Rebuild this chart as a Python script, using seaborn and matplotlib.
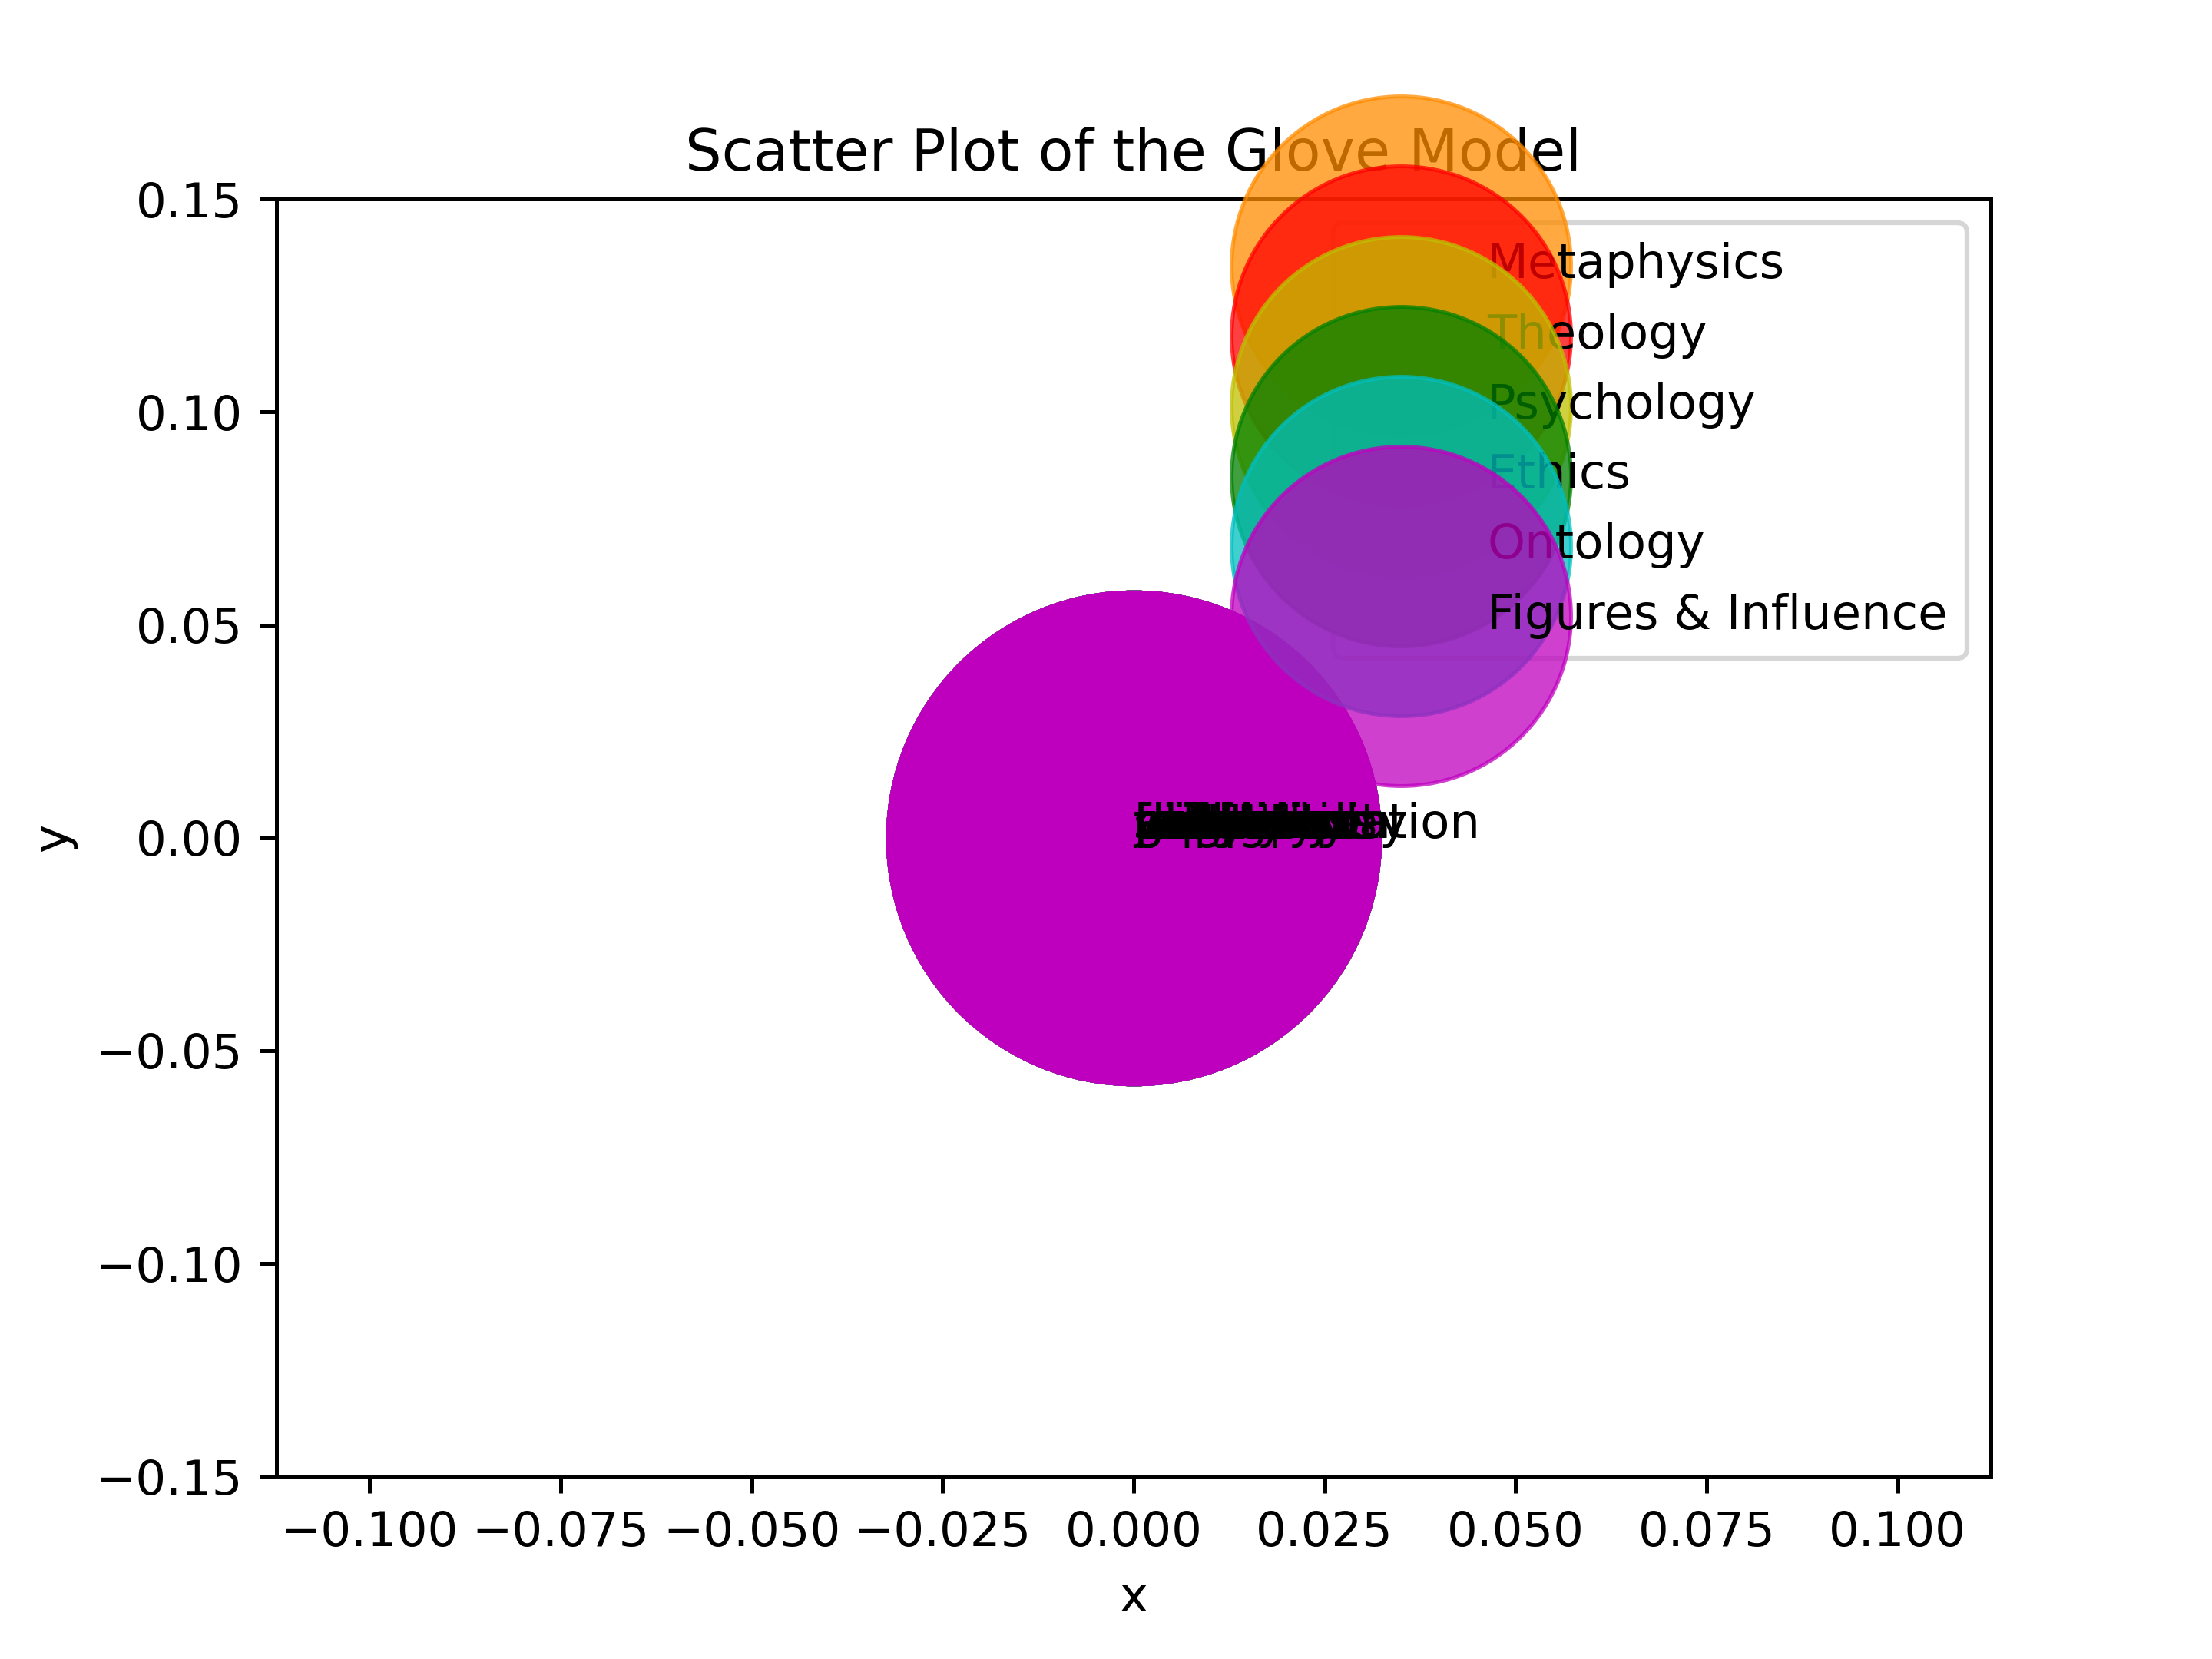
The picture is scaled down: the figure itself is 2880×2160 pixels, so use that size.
import matplotlib
matplotlib.use("Agg")
import matplotlib.pyplot as plt
import seaborn as sns
import pandas as pd

categories = ["Metaphysics", "Theology", "Psychology", "Ethics", "Ontology", "Figures & Influence"]
colors = ["darkorange", "red", "y", "g", "c", "m"]
words = {
    "Metaphysics": ["being", "substance", "causality", "essence", "potentiality"],
    "Theology": ["god", "faith", "soul", "religion", "salvation"],
    "Psychology": ["mind", "will", "desire", "memory", "perception"],
    "Ethics": ["virtue", "good", "justice", "duty", "happiness"],
    "Ontology": ["existence", "reality", "nature", "form", "identity"],
    "Figures & Influence": ["aristotle", "plato", "aquinas", "augustine", "contemplation"],
}
xs = {c: [0.0] * len(words[c]) for c in categories}
ys = {c: [0.0] * len(words[c]) for c in categories}

rows = []
for c in categories:
    for w, x, y in zip(words[c], xs[c], ys[c]):
        rows.append({"cat": c, "word": w, "x": x, "y": y})
df = pd.DataFrame(rows)

fig, ax = plt.subplots(figsize=(6.4, 4.8), dpi=450)
for c, col in zip(categories, colors):
    sub = df[df.cat == c]
    sns.scatterplot(data=sub, x="x", y="y", color=col, s=10500, alpha=0.75,
                    label=c, ax=ax, edgecolor=col, linewidth=0.8)
for _, r in df.iterrows():
    ax.annotate(r.word, (r.x, r.y), fontsize=10, color="black", zorder=5)
ax.set_xlim(-0.1122, 0.1122)
ax.set_ylim(-0.15, 0.15)
ax.set_xticks([-0.1, -0.075, -0.05, -0.025, 0, 0.025, 0.05, 0.075, 0.1])
ax.set_yticks([-0.15, -0.1, -0.05, 0, 0.05, 0.1, 0.15])
ax.set_xlabel("x")
ax.set_ylabel("y")
ax.set_title("Scatter Plot of the Glove Model")
ax.legend(loc="upper right", markerscale=0.69, labelspacing=0.5)
fig.savefig("out.png", dpi=450)
